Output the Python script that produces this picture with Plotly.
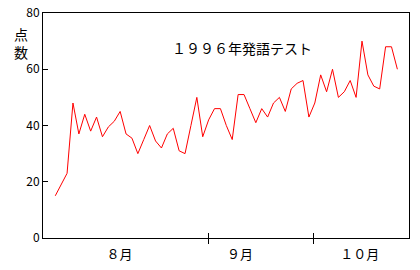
import plotly.graph_objects as go

scores = [15, 19, 23, 48, 37, 44, 38, 43, 36, 39.5, 41.5, 45, 37, 35.5, 30,
          35, 40, 34.5, 32, 37, 39, 31, 30, 40, 50, 36, 42, 46, 46, 40,
          35, 51, 51, 46, 41, 46, 43, 48, 50, 45, 53, 55, 56, 43, 48,
          58, 52, 60, 50, 52, 56, 50, 70, 58, 54, 53, 68, 68, 60]
session = list(range(len(scores)))

month_labels = ["８月", "９月", "１０月"]
month_label_pos = [10.9, 31.3, 51.6]
month_bounds = [26, 43.8]

y_ticks = [0, 20, 40, 60, 80]
title_text = "１９９６年発語テスト"
y_title = "点<br>数"

FONT = "Noto Sans CJK JP"
xr = [-2.08, 59.97]

fig = go.Figure()
fig.add_trace(go.Scatter(x=session, y=scores, mode="lines",
                         line=dict(color="#ff0000", width=1),
                         hoverinfo="skip", showlegend=False))
fig.add_trace(go.Scatter(x=[xr[0]], y=[0], xaxis="x2", mode="markers",
                         marker=dict(opacity=0), showlegend=False, hoverinfo="skip"))
fig.add_trace(go.Scatter(x=[xr[0]], y=[0], xaxis="x3", mode="markers",
                         marker=dict(opacity=0), showlegend=False, hoverinfo="skip"))

fig.update_layout(
    width=420, height=270,
    margin=dict(l=43, r=11, t=13, b=32, autoexpand=False),
    paper_bgcolor="white", plot_bgcolor="white",
    font=dict(family=FONT, color="black", size=12),
    xaxis=dict(range=xr, showline=True, mirror=True, linecolor="black", linewidth=1,
               tickvals=month_label_pos, ticktext=month_labels, ticks="",
               showgrid=False, zeroline=False, tickfont=dict(size=13),
               ticklabelstandoff=4, automargin=False),
    xaxis2=dict(range=xr, overlaying="x", anchor="y", side="bottom",
                tickvals=month_bounds, ticks="inside", ticklen=5, tickcolor="black",
                showticklabels=False, showgrid=False, zeroline=False, showline=False,
                automargin=False),
    xaxis3=dict(range=xr, overlaying="x", anchor="y", side="bottom",
                tickvals=month_bounds, ticks="outside", ticklen=5, tickcolor="black",
                showticklabels=False, showgrid=False, zeroline=False, showline=False,
                automargin=False),
    yaxis=dict(range=[0, 80], tickvals=y_ticks, ticks="inside", ticklen=5,
               tickcolor="black", showline=True, mirror=True, linecolor="black",
               linewidth=1, showgrid=False, zeroline=False, tickfont=dict(size=12),
               automargin=False),
    annotations=[
        dict(text=title_text, xref="paper", yref="paper", x=0.545, y=0.845,
             showarrow=False, font=dict(size=14), xanchor="center", yanchor="middle"),
        dict(text=y_title, xref="paper", yref="paper", x=-0.06, y=0.865,
             showarrow=False, font=dict(size=14), xanchor="center", yanchor="middle"),
    ],
)

fig.write_html("out.html")
